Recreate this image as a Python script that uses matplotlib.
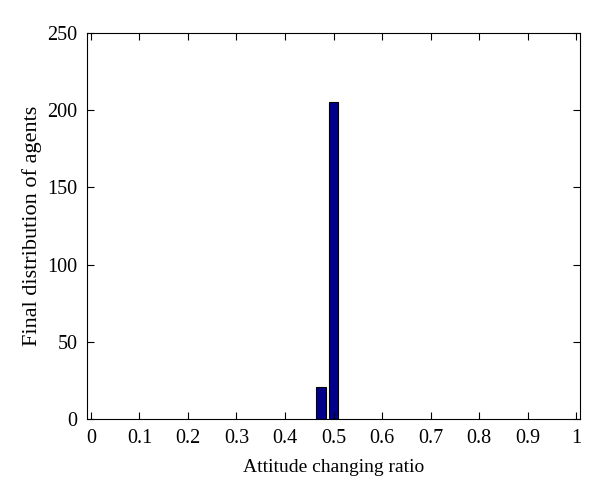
import matplotlib
matplotlib.use("Agg")
import matplotlib.pyplot as plt
import numpy as np

# ── Data ────────────────────────────────────────────────────────────────────
bin_centers = [0.475, 0.5]
agent_counts = [21, 205]
x_ticks = [0, 0.1, 0.2, 0.3, 0.4, 0.5, 0.6, 0.7, 0.8, 0.9, 1]
x_tick_labels = ["0", "0.1", "0.2", "0.3", "0.4", "0.5", "0.6", "0.7", "0.8", "0.9", "1"]
y_ticks = [0, 50, 100, 150, 200, 250]

plt.rcParams["font.family"] = ["Liberation Serif", "DejaVu Serif"]

fig = plt.figure(figsize=(6.0, 4.98), dpi=100)
ax = fig.add_axes([0.145, 0.1586, 0.8217, 0.7751])

ax.bar(bin_centers, agent_counts, width=0.0205, color="#00008B",
       edgecolor="black", linewidth=0.8)

ax.set_xlim(-0.008, 1.008)
ax.set_ylim(0, 250)
ax.set_xticks(x_ticks)
ax.set_xticklabels(x_tick_labels)
ax.set_yticks(y_ticks)

ax.tick_params(direction="in", top=True, right=True, length=5,
               width=0.8, labelsize=14.5, pad=7)
for s in ax.spines.values():
    s.set_linewidth(0.8)

ax.set_xlabel("Attitude changing ratio", fontsize=14, labelpad=8)
ax.set_ylabel("Final distribution of agents", fontsize=16, labelpad=4)

fig.savefig("out.png", dpi=100)
